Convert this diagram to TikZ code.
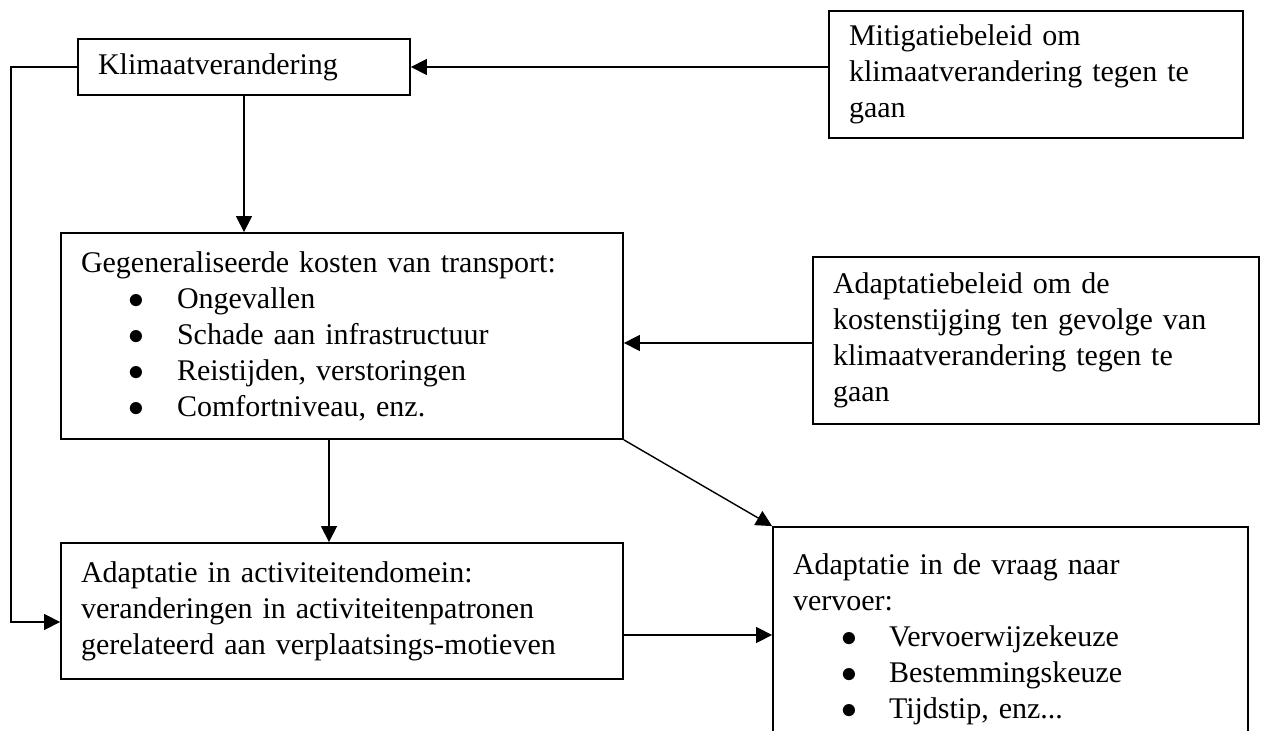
\documentclass[tikz,border=0pt]{standalone}
\usepackage{fontspec}
\setmainfont{Liberation Serif}
\usetikzlibrary{arrows.meta,calc}
\newcommand{\itm}[1]{\mbox{\makebox[48pt][l]{\hspace{24pt}\scalebox{1.1}{$\bullet$}}#1}}
\begin{document}
\begin{tikzpicture}[x=0.5pt,y=-0.5pt,
  box/.style={draw,line width=0.9pt,rectangle,align=left,inner xsep=10pt,inner ysep=0pt,font=\fontsize{15}{18}\selectfont},
  arr/.style={line width=0.7pt,-{Triangle[length=8pt,width=8pt]}}]
\fill[white] (0,0) rectangle (1264,731);
\useasboundingbox (0,0) rectangle (1264,731);
\node[box,minimum height=28pt,text width=146pt] (klim) at (244,67) {Klimaatverandering};
\node[box,minimum height=63.5pt,text width=187pt] (miti) at (1036,74.5) {Mitigatiebeleid om\\klimaatverandering tegen te\\gaan};
\node[box,minimum height=103pt,text width=261pt] (gegen) at (342,336) {Gegeneraliseerde kosten van transport:\\\itm{Ongevallen}\\\itm{Schade aan infrastructuur}\\\itm{Reistijden, verstoringen}\\\itm{Comfortniveau, enz.}};
\node[box,minimum height=83.5pt,text width=203pt] (adbel) at (1036,340.5) {Adaptatiebeleid om de\\kostenstijging ten gevolge van\\klimaatverandering tegen te\\gaan};
\node[box,minimum height=68pt,text width=261pt] (adact) at (342,611) {Adaptatie in activiteitendomein:\\veranderingen in activiteitenpatronen\\gerelateerd aan verplaatsings-motieven};
\node[box,minimum height=112pt,text width=217.5pt] (vraag) at (1010.5,639) {Adaptatie in de vraag naar\\vervoer:\\\itm{Vervoerwijzekeuze}\\\itm{Bestemmingskeuze}\\\itm{Tijdstip, enz...}};
\coordinate (lft) at (11,622);
\draw[arr] (miti.west |- klim.east) -- (klim.east);
\draw[arr] (klim.south) -- (klim.south |- gegen.north);
\draw[arr] (klim.west) -| (lft) -- (lft -| adact.west);
\draw[arr] (adbel.west |- 0,343) -- (gegen.east |- 0,343);
\draw[arr] ([xshift=-6.5pt]gegen.south) -- ([xshift=-6.5pt]adact.north);
\draw[arr] (gegen.south east) -- (vraag.north west);
\draw[arr] ([yshift=-12pt]adact.east) -- ([yshift=-12pt]adact.east -| vraag.west);
\end{tikzpicture}
\end{document}
